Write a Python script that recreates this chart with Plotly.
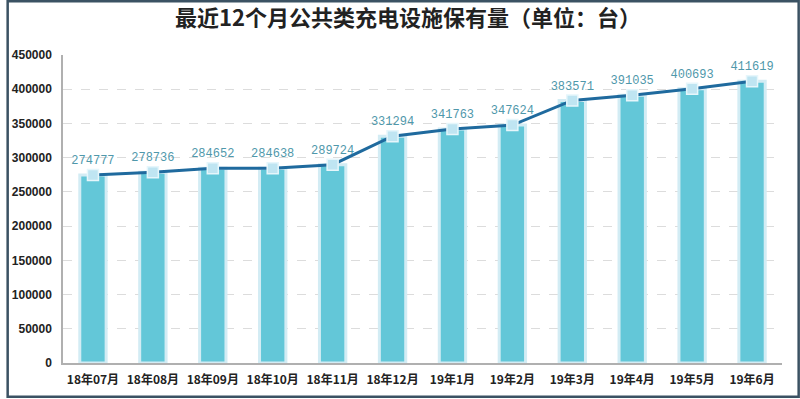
import plotly.graph_objects as go

categories = ["18年07月", "18年08月", "18年09月", "18年10月", "18年11月", "18年12月",
              "19年1月", "19年2月", "19年3月", "19年4月", "19年5月", "19年6月"]
values = [274777, 278736, 284652, 284638, 289724, 331294,
          341763, 347624, 383571, 391035, 400693, 411619]
y_ticks = [0, 50000, 100000, 150000, 200000, 250000, 300000, 350000, 400000, 450000]

W, H = 800, 399
L, R, T, B = 57, 18, 55, 35

fig = go.Figure()
fig.add_trace(go.Bar(
    x=categories, y=values,
    marker=dict(color="#63c7d8", line=dict(color="#d3ecf4", width=3)),
    hoverinfo="skip", showlegend=False,
))
fig.add_trace(go.Scatter(
    x=categories, y=values, mode="lines+markers+text",
    line=dict(color="#1f6a9e", width=3),
    marker=dict(symbol="square", size=11, color="#bfe5f2",
                line=dict(color="#e6f6fb", width=1.5)),
    text=[str(v) for v in values], textposition="top center",
    textfont=dict(family="Liberation Mono", size=12, color="#4f98ab"),
    showlegend=False,
))

pw = W - L - R
ph = H - T - B
inset = 1.2
fig.add_shape(type="rect", xref="paper", yref="paper",
              x0=-(L - inset) / pw, x1=1 + (R - inset) / pw,
              y0=-(B - inset) / ph, y1=1 + (T - inset) / ph,
              line=dict(color="#3b5263", width=2.5), layer="above")

fig.update_layout(
    width=W, height=H,
    margin=dict(l=L, r=R, t=T, b=B),
    paper_bgcolor="white", plot_bgcolor="white",
    bargap=0.56,
    title=dict(text="<b>最近12个月公共类充电设施保有量（单位：台）</b>",
               x=0.51, xanchor="center", y=0.955, yanchor="middle",
               font=dict(family="Noto Sans CJK SC", size=22, color="#222222")),
    xaxis=dict(range=[-0.5, len(categories) - 0.5],
               showline=True, linecolor="#b0b0b0", linewidth=1.5,
               tickfont=dict(family="Noto Sans CJK SC", size=12, color="#222222"),
               ticks="", showgrid=False, ticklabelstandoff=5,
               tickprefix="<b>", ticksuffix="</b>"),
    yaxis=dict(range=[0, 450000], tickvals=y_ticks,
               ticktext=[f"<b>{v}</b>" for v in y_ticks],
               showline=True, linecolor="#b0b0b0", linewidth=1.5,
               showgrid=True, gridcolor="#dcdcdc", griddash="dash", gridwidth=1,
               zeroline=False, ticks="", ticklabelstandoff=7,
               tickfont=dict(family="Liberation Sans", size=12, color="#222222")),
)

fig.write_html("out.html", config={"displayModeBar": False},
               post_script="document.body.style.margin='0';document.body.style.overflow='hidden';")
